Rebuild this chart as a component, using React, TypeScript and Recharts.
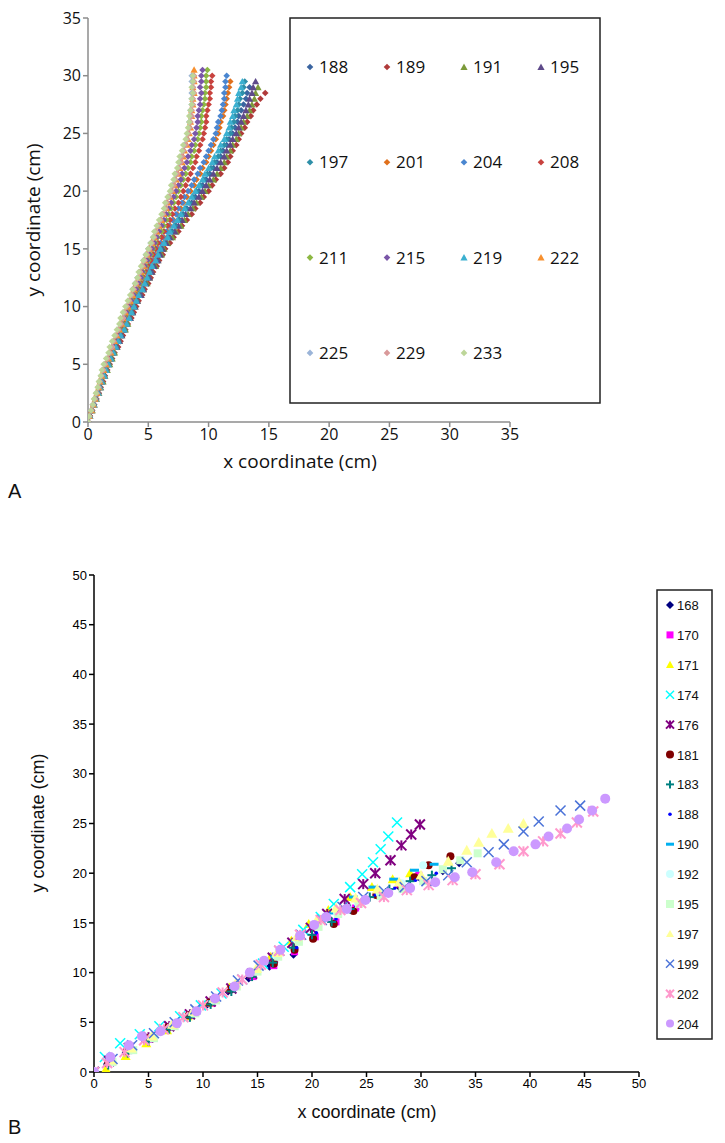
import React from "react";
import { ScatterChart, Scatter, XAxis, YAxis } from "recharts";

// ---- panel A: y levels shared by every track, x per track ----
const yLevelsA = [
  0, 0.5, 1, 1.5, 2, 2.5, 3, 3.5, 4, 4.5, 5, 5.5, 6, 6.5, 7, 7.5, 8, 8.5, 9, 9.5,
  10, 10.5, 11, 11.5, 12, 12.5, 13, 13.5, 14, 14.5, 15, 15.5, 16, 16.5, 17, 17.5,
  18, 18.5, 19, 19.5, 20, 20.5, 21, 21.5, 22, 22.5, 23, 23.5, 24, 24.5, 25, 25.5,
  26, 26.5, 27, 27.5, 28, 28.5, 29, 29.5, 30, 30.5,
];

const a188 = [0,0.15,0.3,0.5,0.65,0.85,1.0,1.15,1.35,1.5,1.7, 1.9,2.1,2.3,2.5,2.7,3.0,3.2,3.4,3.6,3.8, 4.0,4.3,4.5,4.7,5.0,5.2,5.4,5.7,5.9,6.1, 6.4,6.7,7.0,7.3,7.6, 7.9,8.2,8.6,8.9,9.2, 9.5,9.8,10.1,10.4,10.7, 11.0,11.2,11.5,11.7,12.0, 12.2,12.4,12.5,12.7,12.9, 13.1,13.2,13.4];
const a189 = [0,0.15,0.35,0.5,0.7,0.9,1.05,1.25,1.4,1.6,1.8, 2.0,2.2,2.5,2.7,2.9,3.1,3.3,3.6,3.8,4.0, 4.2,4.5,4.7,5.0,5.2,5.4,5.7,5.9,6.2,6.4, 6.8,7.1,7.5,7.8,8.2, 8.6,8.9,9.3,9.6,10.0, 10.3,10.6,11.0,11.3,11.6, 11.8,12.0,12.3,12.5,12.7, 13.0,13.2,13.5,13.7,14.0, 14.3,14.7];
const a191 = [0,0.15,0.35,0.5,0.7,0.9,1.05,1.25,1.4,1.6,1.8, 2.0,2.2,2.4,2.6,2.8,3.1,3.3,3.5,3.7,3.9, 4.1,4.4,4.6,4.9,5.1,5.3,5.6,5.8,6.1,6.3, 6.6,7.0,7.3,7.7,8.0, 8.3,8.7,9.0,9.4,9.7, 10.0,10.4,10.7,11.0,11.3, 11.5,11.8,12.0,12.3,12.5, 12.7,12.9,13.2,13.4,13.6, 13.8,13.9,14.1];
const a195 = [0,0.15,0.3,0.5,0.65,0.85,1.0,1.15,1.35,1.5,1.7, 1.9,2.1,2.4,2.6,2.8,3.0,3.2,3.5,3.7,3.9, 4.1,4.4,4.6,4.8,5.1,5.3,5.5,5.8,6.0,6.2, 6.5,6.8,7.2,7.5,7.8, 8.1,8.5,8.8,9.2,9.5, 9.8,10.1,10.4,10.7,11.0, 11.3,11.5,11.8,12.0,12.3, 12.5,12.7,12.9,13.1,13.3, 13.4,13.6,13.7,13.9];
const a197 = [0,0.15,0.3,0.5,0.65,0.85,1.0,1.15,1.35,1.5,1.7, 1.9,2.1,2.3,2.5,2.7,3.0,3.2,3.4,3.6,3.8, 4.0,4.2,4.5,4.7,4.9,5.1,5.3,5.6,5.8,6.0, 6.3,6.6,6.9,7.2,7.5, 7.8,8.1,8.4,8.7,9.0, 9.3,9.6,9.9,10.2,10.5, 10.8,11.0,11.3,11.5,11.8, 11.9,12.1,12.2,12.4,12.5, 12.6,12.8,12.9,13.0];
const a201 = [0,0.15,0.3,0.45,0.6,0.8,0.95,1.1,1.25,1.4,1.6, 1.8,2.0,2.2,2.4,2.6,2.9,3.1,3.3,3.5,3.7, 3.9,4.1,4.3,4.5,4.7,5.0,5.2,5.4,5.6,5.8, 6.1,6.3,6.6,6.8,7.1, 7.4,7.7,7.9,8.2,8.5, 8.8,9.0,9.3,9.5,9.8, 10.0,10.2,10.4,10.6,10.8, 10.9,11.0,11.2,11.3,11.4, 11.5,11.6,11.7,11.8];
const a204 = [0,0.15,0.3,0.45,0.6,0.8,0.95,1.1,1.25,1.4,1.6, 1.8,2.0,2.2,2.4,2.6,2.8,3.0,3.2,3.4,3.6, 3.8,4.0,4.2,4.4,4.6,4.9,5.1,5.3,5.5,5.7, 6.0,6.2,6.5,6.7,7.0, 7.3,7.5,7.8,8.0,8.3, 8.6,8.8,9.1,9.3,9.6, 9.8,10.0,10.2,10.4,10.6, 10.7,10.8,11.0,11.1,11.2, 11.3,11.3,11.4,11.4,11.5];
const a208 = [0,0.15,0.3,0.45,0.6,0.8,0.95,1.1,1.25,1.4,1.6, 1.8,2.0,2.2,2.4,2.6,2.8,3.0,3.2,3.4,3.6, 3.8,4.0,4.2,4.4,4.6,4.8,5.0,5.2,5.4,5.6, 5.8,6.1,6.3,6.6,6.8, 7.0,7.2,7.5,7.7,7.9, 8.1,8.3,8.5,8.7,8.9, 9.0,9.2,9.3,9.5,9.6, 9.7,9.8,9.8,9.9,10.0, 10.1,10.1,10.2,10.2,10.3];
const a211 = [0,0.1,0.3,0.45,0.6,0.75,0.9,1.0,1.15,1.3,1.5, 1.7,1.9,2.1,2.3,2.5,2.7,2.9,3.1,3.3,3.5, 3.7,3.9,4.1,4.3,4.5,4.6,4.8,5.0,5.2,5.4, 5.6,5.8,6.1,6.3,6.5, 6.7,6.9,7.1,7.3,7.5, 7.7,7.9,8.1,8.3,8.5, 8.6,8.8,8.9,9.1,9.2, 9.3,9.4,9.4,9.5,9.6, 9.7,9.7,9.8,9.8,9.8,9.9];
const a215 = [0,0.1,0.3,0.45,0.6,0.75,0.9,1.0,1.15,1.3,1.5, 1.7,1.9,2.1,2.3,2.5,2.6,2.8,3.0,3.2,3.4, 3.6,3.8,4.0,4.2,4.4,4.5,4.7,4.9,5.1,5.3, 5.5,5.7,5.9,6.1,6.3, 6.5,6.7,6.9,7.1,7.3, 7.5,7.7,7.8,8.0,8.2, 8.3,8.5,8.6,8.8,8.9, 9.0,9.1,9.1,9.2,9.3, 9.3,9.4,9.3,9.4,9.4,9.5];
const a219 = [0,0.15,0.3,0.5,0.65,0.85,1.0,1.15,1.35,1.5,1.7, 1.9,2.1,2.3,2.5,2.7,3.0,3.2,3.4,3.6,3.8, 4.0,4.2,4.5,4.7,4.9,5.1,5.3,5.6,5.8,6.0, 6.3,6.6,6.8,7.1,7.4, 7.7,8.0,8.3,8.6,8.9, 9.2,9.5,9.7,10.0,10.3, 10.5,10.8,11.0,11.3,11.5, 11.7,11.8,12.0,12.1,12.3, 12.4,12.5,12.7,12.8];
const a222 = [0,0.1,0.3,0.45,0.6,0.75,0.9,1.0,1.15,1.3,1.5, 1.7,1.9,2.0,2.2,2.4,2.6,2.8,2.9,3.1,3.3, 3.5,3.7,3.8,4.0,4.2,4.4,4.6,4.7,4.9,5.1, 5.3,5.5,5.7,5.9,6.1, 6.3,6.5,6.6,6.8,7.0, 7.2,7.3,7.5,7.6,7.8, 7.9,8.0,8.2,8.3,8.4, 8.5,8.5,8.6,8.6,8.7, 8.7,8.8,8.7,8.8,8.8,8.8];
const a225 = [0,0.1,0.25,0.4,0.55,0.7,0.85,0.95,1.1,1.25,1.4, 1.6,1.8,2.0,2.1,2.3,2.5,2.7,2.9,3.0,3.2, 3.4,3.6,3.7,3.9,4.1,4.3,4.5,4.6,4.8,5.0, 5.2,5.4,5.6,5.8,6.0, 6.2,6.4,6.5,6.7,6.9, 7.0,7.2,7.3,7.5,7.6, 7.7,7.9,8.0,8.2,8.3, 8.4,8.4,8.5,8.5,8.6, 8.6,8.6,8.7,8.6,8.6];
const a229 = [0,0.1,0.25,0.4,0.55,0.7,0.85,0.95,1.1,1.25,1.4, 1.6,1.8,2.0,2.1,2.3,2.5,2.7,2.9,3.0,3.2, 3.4,3.6,3.8,4.0,4.2,4.3,4.5,4.7,4.9,5.1, 5.3,5.5,5.6,5.8,6.0, 6.2,6.4,6.5,6.7,6.9, 7.1,7.2,7.4,7.5,7.7, 7.8,7.9,8.1,8.2,8.3, 8.4,8.5,8.6,8.6,8.7, 8.7,8.8,8.7,8.8,8.8];
const a233 = [0,0.1,0.25,0.4,0.5,0.65,0.8,0.9,1.05,1.15,1.3, 1.5,1.7,1.8,2.0,2.2,2.4,2.6,2.7,2.9,3.1, 3.3,3.5,3.7,3.9,4.1,4.2,4.4,4.6,4.8,5.0, 5.2,5.4,5.5,5.7,5.9, 6.1,6.3,6.4,6.6,6.8, 6.9,7.1,7.2,7.4,7.5, 7.6,7.8,7.9,8.1,8.2, 8.3,8.4,8.4,8.5,8.6, 8.6,8.7,8.6,8.7,8.7];

const ticksA = [0, 5, 10, 15, 20, 25, 30, 35];

// ---- panel B: (x, y) per track ----
type Pt = [number, number];
const b168: Pt[] = [[0,0],[1.2,0.8],[2.9,1.9],[4.7,3.1],[6.6,4.3],[8.5,5.5],[10.4,6.8],[12.3,8.1],[14.2,9.4],[16.1,10.6],[18.3,11.8],[20.2,13.5],[22.1,15.0],[24.0,16.4],[26.0,17.7],[28.0,18.6],[30.0,19.4],[32.0,20.2],[33.5,21.0]];
const b170: Pt[] = [[0,0],[1.4,1.0],[3.2,2.2],[5.1,3.3],[7.0,4.5],[8.9,5.7],[10.8,6.9],[12.7,8.3],[14.6,9.6],[16.5,10.7],[18.4,12.1],[20.3,13.6],[22.2,15.1],[24.0,16.5],[26.0,17.9],[28.0,18.9],[29.8,19.8]];
const b171: Pt[] = [[0,0],[1.1,0.3],[2.9,1.6],[4.8,2.9],[6.7,4.2],[8.6,5.6],[10.5,7.0],[12.4,8.5],[14.3,10.0],[16.2,11.6],[18.1,13.2],[19.7,14.9],[21.5,16.3],[23.5,17.6],[25.5,18.6],[27.4,19.4],[29.0,20.0]];
const b174: Pt[] = [[0,0],[1.0,1.5],[2.4,2.9],[4.2,3.8],[6.0,4.6],[7.9,5.6],[9.8,6.7],[11.7,7.9],[13.6,9.3],[15.5,10.9],[17.4,12.6],[19.2,14.3],[20.8,15.6],[22.0,16.9],[23.5,18.6],[24.6,19.9],[25.6,21.1],[26.3,22.4],[27.0,23.7],[27.8,25.1]];
const b176: Pt[] = [[0,0],[1.4,1.1],[3.2,2.4],[5.0,3.5],[6.9,4.6],[8.8,5.8],[10.7,7.1],[12.6,8.4],[14.5,9.9],[16.4,11.5],[18.2,13.0],[19.9,14.5],[21.4,15.9],[23.0,17.4],[24.7,18.9],[25.8,20.0],[27.2,21.3],[28.2,22.8],[29.1,23.9],[29.9,24.9]];
const b181: Pt[] = [[0,0],[1.3,0.9],[3.0,2.1],[4.9,3.4],[6.8,4.5],[8.7,5.7],[10.6,7.0],[12.5,8.3],[14.4,9.8],[16.5,10.9],[18.4,12.3],[20.1,13.4],[22.0,14.9],[23.8,16.2],[25.9,17.8],[28.2,18.7],[29.4,19.6],[30.7,20.8],[32.7,21.7]];
const b183: Pt[] = [[0,0],[1.3,0.7],[3.1,1.9],[5.0,3.1],[6.9,4.3],[8.8,5.5],[10.7,6.8],[12.6,8.1],[14.5,9.6],[16.4,11.0],[18.3,12.5],[20.0,13.8],[21.8,15.1],[23.5,16.4],[25.3,17.6],[27.1,18.4],[29.0,19.2],[31.0,19.8],[32.8,20.5]];
const b188: Pt[] = [[0,0],[1.6,1.2],[3.5,2.4],[5.4,3.6],[7.3,4.8],[9.2,6.0],[11.1,7.3],[13.0,8.7],[14.9,10.2],[16.8,11.4],[18.6,12.5],[20.4,14.0],[22.2,15.4],[24.0,16.7],[25.8,17.8],[27.6,18.5],[29.5,19.3],[31.4,20.0]];
const b190: Pt[] = [[0,0],[1.5,1.0],[3.3,2.2],[5.2,3.4],[7.1,4.6],[9.0,5.8],[10.9,7.1],[12.8,8.5],[14.7,10.0],[16.6,11.6],[18.5,13.2],[20.3,14.7],[22.0,16.0],[23.8,17.6],[25.6,18.6],[27.5,19.4],[29.4,20.3],[31.2,20.9]];
const b192: Pt[] = [[0,0],[1.5,1.1],[3.4,2.3],[5.3,3.5],[7.2,4.7],[9.1,5.9],[11.0,7.2],[12.9,8.6],[14.8,10.1],[16.7,11.7],[18.6,13.3],[20.4,14.8],[22.3,16.0],[24.2,17.0],[26.2,18.0],[28.2,19.0],[30.2,20.8]];
const b195: Pt[] = [[0,0],[1.7,1.0],[3.6,2.2],[5.5,3.4],[7.4,4.6],[9.3,5.9],[11.2,7.2],[13.1,8.6],[15.0,10.1],[16.9,11.6],[18.8,13.1],[20.6,14.6],[22.4,15.9],[24.3,16.9],[26.3,17.7],[28.3,18.4],[30.2,19.2],[32.0,20.4],[33.6,21.3],[35.2,22.0]];
const b197: Pt[] = [[0,0],[1.6,1.2],[3.4,2.4],[5.3,3.6],[7.2,4.8],[9.1,6.1],[11.0,7.4],[13.0,8.9],[14.9,10.4],[16.8,12.0],[18.6,13.6],[20.4,15.2],[22.2,16.5],[24.0,17.5],[26.0,18.4],[28.0,19.1],[30.0,19.8],[32.5,21.2],[34.2,22.3],[35.3,23.1],[36.5,24.0],[38.0,24.5],[39.4,25.0]];
const b199: Pt[] = [[0,0],[1.7,1.3],[3.5,2.7],[5.5,3.9],[7.4,5.0],[9.3,6.3],[11.2,7.6],[13.2,9.2],[15.1,10.7],[17.0,12.2],[19.0,13.8],[20.9,15.3],[22.8,16.6],[24.7,17.6],[26.6,18.2],[28.5,18.6],[30.5,19.2],[32.5,19.8],[34.2,21.1],[36.2,22.1],[37.6,22.9],[39.4,24.2],[40.8,25.2],[42.8,26.3],[44.6,26.8]];
const b202: Pt[] = [[0,0],[1.2,0.9],[2.8,2.0],[4.6,3.2],[6.4,4.3],[8.2,5.5],[10.0,6.7],[11.8,8.0],[13.6,9.3],[15.3,10.8],[17.0,12.2],[18.9,13.8],[20.8,15.3],[22.6,16.3],[24.5,17.0],[26.6,17.6],[28.7,18.3],[30.7,18.8],[32.9,19.3],[35.0,19.9],[37.2,20.9],[39.4,22.2],[41.2,23.2],[42.8,24.0],[44.3,25.1],[45.8,26.2]];
const b204: Pt[] = [[0,0],[1.5,1.5],[3.2,2.7],[4.4,3.6],[6.1,4.1],[7.6,4.9],[9.4,6.1],[11.1,7.4],[12.9,8.6],[14.3,10.0],[15.6,11.2],[17.1,12.3],[18.9,13.7],[20.2,14.8],[21.3,15.6],[23.2,16.4],[24.9,17.3],[27.0,18.0],[29.0,18.5],[31.3,19.1],[33.1,19.6],[34.7,20.1],[36.9,21.1],[38.5,22.2],[40.5,22.9],[41.7,23.7],[43.4,24.5],[44.5,25.4],[45.7,26.3],[46.9,27.5]];

const ticksB = [0, 5, 10, 15, 20, 25, 30, 35, 40, 45, 50];

type Kind = "diamond" | "triangle" | "square" | "circle" | "x" | "star" | "plus" | "dot" | "dash";

const seriesA = [
  { name: "188", xs: a188, color: "#3A64A0", kind: "diamond" },
  { name: "189", xs: a189, color: "#B03A3A", kind: "diamond" },
  { name: "191", xs: a191, color: "#7C9A3A", kind: "triangle" },
  { name: "195", xs: a195, color: "#5E4A8A", kind: "triangle" },
  { name: "197", xs: a197, color: "#2E8FA8", kind: "diamond" },
  { name: "201", xs: a201, color: "#E0701C", kind: "diamond" },
  { name: "204", xs: a204, color: "#4A86D0", kind: "diamond" },
  { name: "208", xs: a208, color: "#C8423E", kind: "diamond" },
  { name: "211", xs: a211, color: "#8DB843", kind: "diamond" },
  { name: "215", xs: a215, color: "#7A56A8", kind: "diamond" },
  { name: "219", xs: a219, color: "#3BB0D0", kind: "triangle" },
  { name: "222", xs: a222, color: "#F7902F", kind: "triangle" },
  { name: "225", xs: a225, color: "#9BB4D8", kind: "diamond" },
  { name: "229", xs: a229, color: "#D9999A", kind: "diamond" },
  { name: "233", xs: a233, color: "#BDD699", kind: "diamond" },
];

const seriesB = [
  { name: "168", pts: b168, color: "#000080", kind: "diamond", size: 4 },
  { name: "170", pts: b170, color: "#FF00FF", kind: "square", size: 3.5 },
  { name: "171", pts: b171, color: "#FFFF00", kind: "triangle", size: 5 },
  { name: "174", pts: b174, color: "#00FFFF", kind: "x", size: 5 },
  { name: "176", pts: b176, color: "#800080", kind: "star", size: 5 },
  { name: "181", pts: b181, color: "#800000", kind: "circle", size: 4 },
  { name: "183", pts: b183, color: "#008080", kind: "plus", size: 4.5 },
  { name: "188", pts: b188, color: "#0000FF", kind: "dot", size: 1.8 },
  { name: "190", pts: b190, color: "#00B0F0", kind: "dash", size: 4.5 },
  { name: "192", pts: b192, color: "#CCFFFF", kind: "circle", size: 4 },
  { name: "195", pts: b195, color: "#CCFFCC", kind: "square", size: 4 },
  { name: "197", pts: b197, color: "#FFFF99", kind: "triangle", size: 5.5 },
  { name: "199", pts: b199, color: "#4A72D8", kind: "x", size: 5 },
  { name: "202", pts: b202, color: "#FF99CC", kind: "star", size: 5 },
  { name: "204", pts: b204, color: "#CC99FF", kind: "circle", size: 5 },
];

function markerEl(kind: Kind, cx: number, cy: number, s: number, color: string, key?: string) {
  switch (kind) {
    case "diamond":
      return <polygon key={key} points={`${cx},${cy - s} ${cx + s},${cy} ${cx},${cy + s} ${cx - s},${cy}`} fill={color} />;
    case "triangle":
      return <polygon key={key} points={`${cx},${cy - s} ${cx + s},${cy + s * 0.8} ${cx - s},${cy + s * 0.8}`} fill={color} />;
    case "square":
      return <rect key={key} x={cx - s} y={cy - s} width={s * 2} height={s * 2} fill={color} />;
    case "circle":
    case "dot":
      return <circle key={key} cx={cx} cy={cy} r={s} fill={color} />;
    case "dash":
      return <rect key={key} x={cx - s} y={cy - 1.5} width={s * 2} height={3} fill={color} />;
    case "plus":
      return (
        <g key={key} stroke={color} strokeWidth={2}>
          <line x1={cx - s} y1={cy} x2={cx + s} y2={cy} />
          <line x1={cx} y1={cy - s} x2={cx} y2={cy + s} />
        </g>
      );
    case "x":
      return (
        <g key={key} stroke={color} strokeWidth={1.5}>
          <line x1={cx - s} y1={cy - s} x2={cx + s} y2={cy + s} />
          <line x1={cx - s} y1={cy + s} x2={cx + s} y2={cy - s} />
        </g>
      );
    case "star":
      return (
        <g key={key} stroke={color} strokeWidth={2}>
          <line x1={cx - s} y1={cy - s} x2={cx + s} y2={cy + s} />
          <line x1={cx - s} y1={cy + s} x2={cx + s} y2={cy - s} />
          <line x1={cx} y1={cy - s} x2={cx} y2={cy + s} />
        </g>
      );
  }
  return null;
}

const shapeOf = (kind: Kind, s: number, color: string) => (props: any) =>
  props.cx == null ? <g /> : markerEl(kind, props.cx, props.cy, s, color);

const fontA = "'Open Sans', sans-serif";
const fontB = "'Liberation Sans', Arial, sans-serif";

export default function App() {
  const greyA = "#8C8C8C";
  return (
    <div style={{ position: "absolute", left: 0, top: 0, width: 725, height: 1143, background: "#fff" }}>
      {/* Panel A */}
      <div style={{ position: "absolute", left: 0, top: 0 }}>
        <ScatterChart width={725} height={480} margin={{ top: 18, right: 215, bottom: 28, left: 28 }}>
          <XAxis
            type="number"
            dataKey="x"
            domain={[0, 35]}
            ticks={ticksA}
            allowDataOverflow
            axisLine={{ stroke: greyA, strokeWidth: 1.5 }}
            tickLine={{ stroke: greyA, strokeWidth: 1.5 }}
            tickSize={5}
            tick={{ fontSize: 16, fill: "#111", fontFamily: fontA }}
          />
          <YAxis
            type="number"
            dataKey="y"
            domain={[0, 35]}
            ticks={ticksA}
            allowDataOverflow
            width={60}
            axisLine={{ stroke: greyA, strokeWidth: 1.5 }}
            tickLine={{ stroke: greyA, strokeWidth: 1.5 }}
            tickSize={5}
            tick={{ fontSize: 16, fill: "#111", fontFamily: fontA }}
          />
          {seriesA.map((s) => (
            <Scatter
              key={s.name}
              name={s.name}
              data={s.xs.map((x, i) => ({ x, y: yLevelsA[i] }))}
              fill={s.color}
              shape={shapeOf(s.kind as Kind, s.kind === "triangle" ? 3.6 : 3.3, s.color)}
              isAnimationActive={false}
            />
          ))}
        </ScatterChart>
      </div>

      {/* Panel B */}
      <div style={{ position: "absolute", left: 0, top: 540 }}>
        <ScatterChart width={725} height={603} margin={{ top: 35, right: 86, bottom: 41, left: 44 }}>
          <XAxis
            type="number"
            dataKey="x"
            domain={[0, 50]}
            ticks={ticksB}
            allowDataOverflow
            axisLine={{ stroke: "#000", strokeWidth: 1.5 }}
            tickLine={{ stroke: "#000", strokeWidth: 1.5 }}
            tickSize={5}
            tick={{ fontSize: 13, fill: "#000", fontFamily: fontB }}
          />
          <YAxis
            type="number"
            dataKey="y"
            domain={[0, 50]}
            ticks={ticksB}
            allowDataOverflow
            width={50}
            axisLine={{ stroke: "#000", strokeWidth: 1.5 }}
            tickLine={{ stroke: "#000", strokeWidth: 1.5 }}
            tickSize={5}
            tick={{ fontSize: 13, fill: "#000", fontFamily: fontB }}
          />
          {seriesB.map((s) => (
            <Scatter
              key={s.name}
              name={s.name}
              data={s.pts.map(([x, y]) => ({ x, y }))}
              fill={s.color}
              shape={shapeOf(s.kind as Kind, s.size, s.color)}
              isAnimationActive={false}
            />
          ))}
        </ScatterChart>
      </div>

      {/* titles and legends */}
      <svg width={725} height={1143} style={{ position: "absolute", left: 0, top: 0, pointerEvents: "none" }}>
        <text x={300} y={468} textAnchor="middle" fontFamily={fontA} fontSize={19} fill="#111">x coordinate (cm)</text>
        <text transform="translate(40,220) rotate(-90)" textAnchor="middle" fontFamily={fontA} fontSize={19} fill="#111">y coordinate (cm)</text>
        <text x={8} y={498} fontFamily={fontB} fontSize={20} fill="#111">A</text>

        <rect x={290} y={18} width={310} height={385} fill="#fff" stroke="#222" strokeWidth={1.5} />
        {seriesA.map((s, i) => {
          const cx = 310 + (i % 4) * 77;
          const cy = 67 + Math.floor(i / 4) * 95.3;
          return (
            <g key={s.name}>
              {markerEl(s.kind as Kind, cx, cy, s.kind === "triangle" ? 3.6 : 3.3, s.color)}
              <text x={cx + 9} y={cy + 6} fontFamily={fontA} fontSize={17} fill="#111">{s.name}</text>
            </g>
          );
        })}

        <text x={367} y={1118} textAnchor="middle" fontFamily={fontB} fontSize={18} fill="#111">x coordinate (cm)</text>
        <text transform="translate(44,823) rotate(-90)" textAnchor="middle" fontFamily={fontB} fontSize={18} fill="#111">y coordinate (cm)</text>
        <text x={8} y={1134} fontFamily={fontB} fontSize={20} fill="#111">B</text>

        <rect x={657} y={590} width={55} height={449} fill="#fff" stroke="#222" strokeWidth={1.5} />
        {seriesB.map((s, i) => {
          const cy = 605 + i * 29.9;
          return (
            <g key={s.name}>
              {markerEl(s.kind as Kind, 670, cy, Math.min(s.size, 4), s.color)}
              <text x={677} y={cy + 5} fontFamily={fontB} fontSize={13} fill="#111">{s.name}</text>
            </g>
          );
        })}
      </svg>
    </div>
  );
}
